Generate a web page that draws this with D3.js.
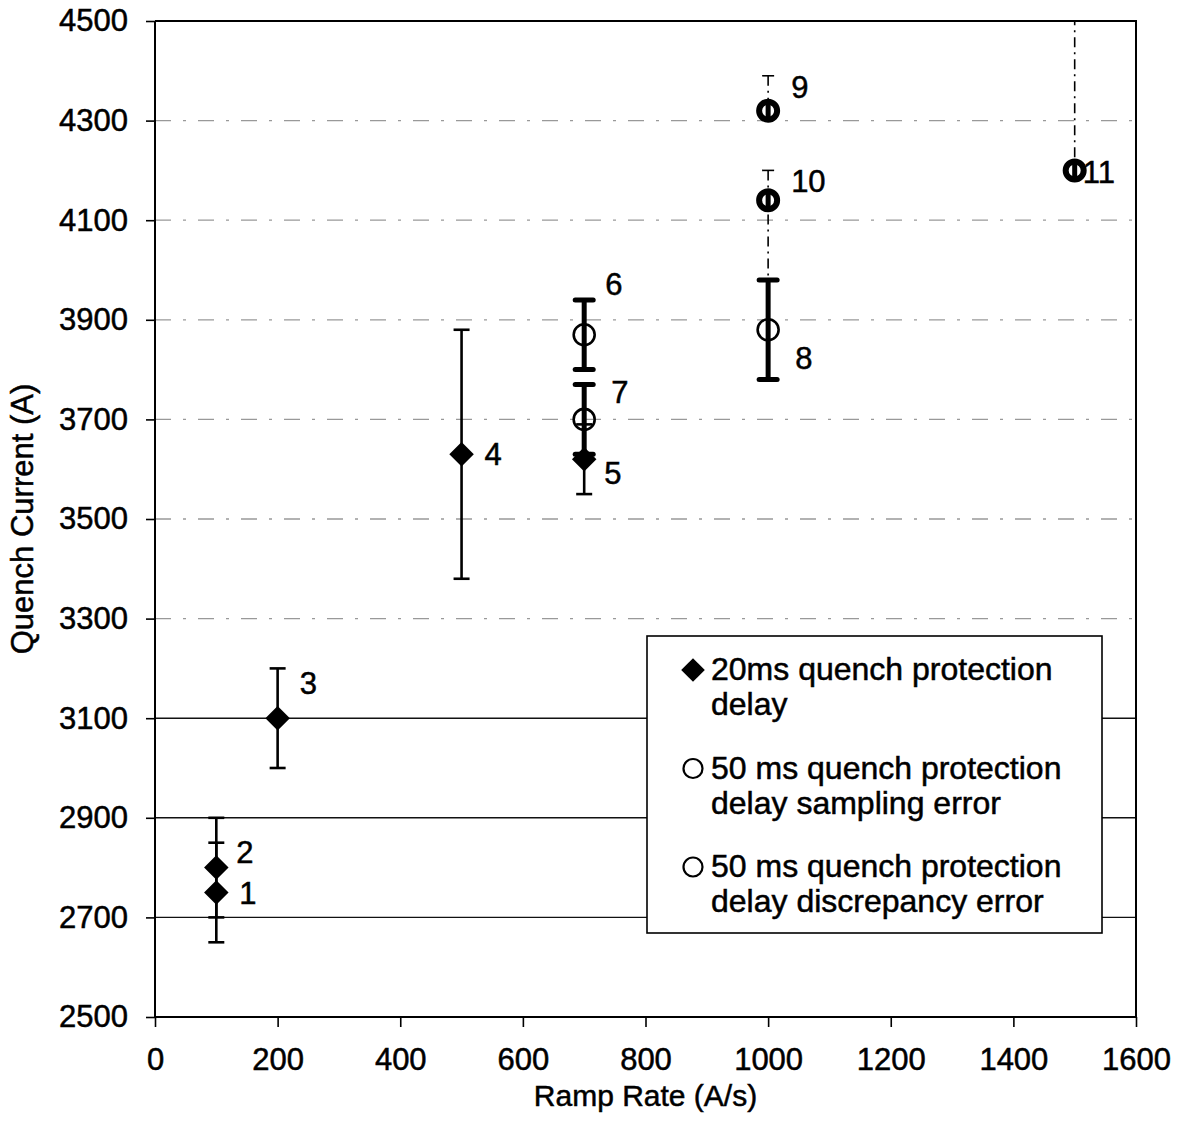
<!DOCTYPE html>
<html>
<head>
<meta charset="utf-8">
<script src="https://cdn.jsdelivr.net/npm/d3@7"></script>
<style>
  body { margin: 0; background: #fff; }
  svg { font-family: "Liberation Sans", Arial, sans-serif; }
  svg text { stroke: #000; stroke-width: 0.5px; fill: #000; }
</style>
</head>
<body>
<svg id="chart" width="1185" height="1121"></svg>
<script>
// 20 ms quench protection delay (diamonds)
const rampA = [100, 100, 200, 500, 700];
const currentA = [2750, 2800, 3100, 3630, 3620];
const errA = [100, 100, 100, 250, 70];
const labelsA = ["1", "2", "3", "4", "5"];

// 50 ms, sampling error (open circles, heavy bars)
const rampB = [700, 700, 1000];
const currentB = [3870, 3700, 3880];
const errB = [70, 70, 100];
const labelsB = ["6", "7", "8"];

// 50 ms, discrepancy error (circles, dash-dot bars)
const rampC = [1000, 1000, 1500];
const currentC = [4320, 4140, 4200];
const errCUp = [70, 60, 400];
const errCDown = [0, 160, 0];
const labelsC = ["9", "10", "11"];

const xTicks = [0, 200, 400, 600, 800, 1000, 1200, 1400, 1600];
const yTicks = [2500, 2700, 2900, 3100, 3300, 3500, 3700, 3900, 4100, 4300, 4500];
const solidGrid = [2700, 2900, 3100];

const legendLabels = [
  ["20ms quench protection", "delay"],
  ["50 ms quench protection", "delay sampling error"],
  ["50 ms quench protection", "delay discrepancy error"],
];

let svg = d3.select("#chart"),
  width = 1185,
  height = 1121,
  margin = { left: 155, right: 49, top: 21, bottom: 104 };

const x = d3.scaleLinear().domain([0, 1600]).range([margin.left, width - margin.right]);
const y = d3.scaleLinear().domain([2500, 4500]).range([height - margin.bottom, margin.top]);

// label offsets from each marker (dx, dy)
const nudgeA = [[23, 0], [20, -16], [22, -35], [23, 0], [20, 14]];
const nudgeB = [[21, -51], [27, -28], [27, 28]];
const nudgeC = [[23, -24], [23, -19], [8, 1]];

svg.append("defs").append("clipPath").attr("id", "plot-clip")
  .append("rect")
  .attr("x", margin.left)
  .attr("y", margin.top)
  .attr("width", width - margin.left - margin.right)
  .attr("height", height - margin.top - margin.bottom);

// gridlines
svg.append("g").classed("grid", true)
  .selectAll("line")
  .data(yTicks.slice(1, -1))
  .join("line")
  .attr("x1", margin.left)
  .attr("x2", width - margin.right)
  .attr("y1", (d) => y(d))
  .attr("y2", (d) => y(d))
  .attr("stroke", (d) => (solidGrid.includes(d) ? "#111" : "#999"))
  .attr("stroke-width", (d) => (solidGrid.includes(d) ? 1.4 : 1.3))
  .attr("stroke-dasharray", (d) => (solidGrid.includes(d) ? null : "16,12,3,12"));

const seriesA = rampA.map((r, i) => ({ r, c: currentA[i], lo: currentA[i] - errA[i], hi: currentA[i] + errA[i], label: labelsA[i], nudge: nudgeA[i] }));
const seriesB = rampB.map((r, i) => ({ r, c: currentB[i], lo: currentB[i] - errB[i], hi: currentB[i] + errB[i], label: labelsB[i], nudge: nudgeB[i] }));
const seriesC = rampC.map((r, i) => ({ r, c: currentC[i], lo: currentC[i] - errCDown[i], hi: currentC[i] + errCUp[i], label: labelsC[i], nudge: nudgeC[i] }));

const bars = svg.append("g").attr("clip-path", "url(#plot-clip)");

const drawBars = (data, cls, stroke, capHalf, linecap, dash) => {
  const g = bars.append("g").classed(cls, true);
  g.selectAll(".stem")
    .data(data)
    .join("line")
    .attr("class", "stem")
    .attr("x1", (d) => x(d.r))
    .attr("x2", (d) => x(d.r))
    .attr("y1", (d) => y(d.hi))
    .attr("y2", (d) => y(d.lo))
    .attr("stroke", "#000")
    .attr("stroke-width", stroke)
    .attr("stroke-dasharray", dash);
  const caps = [];
  data.forEach((d) => {
    if (d.hi !== d.c) caps.push({ r: d.r, v: d.hi });
    if (d.lo !== d.c) caps.push({ r: d.r, v: d.lo });
  });
  g.selectAll(".cap")
    .data(caps)
    .join("line")
    .attr("class", "cap")
    .attr("x1", (d) => x(d.r) - capHalf)
    .attr("x2", (d) => x(d.r) + capHalf)
    .attr("y1", (d) => y(d.v))
    .attr("y2", (d) => y(d.v))
    .attr("stroke", "#000")
    .attr("stroke-width", stroke)
    .attr("stroke-linecap", linecap);
};

drawBars(seriesC, "barsC", 1.6, 6, "butt", "10,5,2,5");
drawBars(seriesA, "barsA", 2.6, 8, "butt", null);
drawBars(seriesB, "barsB", 5, 9, "round", null);

const diamond = d3.symbol().type(d3.symbolSquare).size(300);
const circle = (r) => d3.symbol().type(d3.symbolCircle).size(Math.PI * r * r);

// markers
svg.append("g")
  .selectAll("path")
  .data(seriesA)
  .join("path")
  .attr("transform", (d) => `translate(${x(d.r)},${y(d.c)}) rotate(45)`)
  .attr("d", diamond)
  .attr("fill", "#000");

svg.append("g")
  .selectAll("path")
  .data(seriesB)
  .join("path")
  .attr("transform", (d) => `translate(${x(d.r)},${y(d.c)})`)
  .attr("d", circle(10.5))
  .attr("fill", "none")
  .attr("stroke", "#000")
  .attr("stroke-width", 2.6);

const cMarks = svg.append("g")
  .selectAll("g")
  .data(seriesC)
  .join("g")
  .attr("transform", (d) => `translate(${x(d.r)},${y(d.c)})`);
cMarks.append("path")
  .attr("d", circle(9))
  .attr("fill", "none")
  .attr("stroke", "#000")
  .attr("stroke-width", 6);
cMarks.append("line")
  .attr("y1", -8)
  .attr("y2", 8)
  .attr("stroke", "#000")
  .attr("stroke-width", 5);

// point numbers
svg.append("g")
  .selectAll("text")
  .data(seriesA.concat(seriesB, seriesC))
  .join("text")
  .attr("x", (d) => x(d.r) + d.nudge[0])
  .attr("y", (d) => y(d.c) + d.nudge[1])
  .attr("dy", "0.36em")
  .attr("font-size", 31)
  .text((d) => d.label);

// axes
const xAxis = d3.axisBottom(x).tickValues(xTicks).tickSize(10).tickPadding(21).tickFormat(d3.format("d"));
const yAxis = d3.axisLeft(y).tickValues(yTicks).tickSize(9).tickPadding(18).tickFormat(d3.format("d"));

svg.append("g")
  .attr("transform", `translate(0,${height - margin.bottom})`)
  .call(xAxis)
  .call((g) => {
    g.select(".domain").attr("stroke-width", 2).attr("d", `M${margin.left},0H${width - margin.right}`);
    g.selectAll(".tick line").attr("stroke-width", 1.6);
    g.selectAll(".tick text").attr("font-size", 31).attr("font-family", null).attr("fill", "#000");
  });

svg.append("g")
  .attr("transform", `translate(${margin.left},0)`)
  .call(yAxis)
  .call((g) => {
    g.select(".domain").attr("stroke-width", 2).attr("d", `M0,${margin.top}V${height - margin.bottom}`);
    g.selectAll(".tick line").attr("stroke-width", 1.6);
    g.selectAll(".tick text").attr("font-size", 31).attr("font-family", null).attr("fill", "#000");
  });

// top and right border
svg.append("path")
  .attr("d", `M${margin.left},${margin.top}H${width - margin.right}V${height - margin.bottom}`)
  .attr("fill", "none")
  .attr("stroke", "#000")
  .attr("stroke-width", 2);

svg.append("text")
  .attr("x", (margin.left + width - margin.right) / 2)
  .attr("y", 1106)
  .attr("text-anchor", "middle")
  .attr("font-size", 30)
  .text("Ramp Rate (A/s)");

svg.append("text")
  .attr("transform", `translate(33,${(margin.top + height - margin.bottom) / 2}) rotate(-90)`)
  .attr("text-anchor", "middle")
  .attr("font-size", 31)
  .text("Quench Current (A)");

// legend
const legend = svg.append("g").attr("transform", "translate(647,636)");
legend.append("rect")
  .attr("width", 455)
  .attr("height", 297)
  .attr("fill", "#fff")
  .attr("stroke", "#000")
  .attr("stroke-width", 1.6);

const items = legend.selectAll(".item")
  .data(legendLabels)
  .join("g")
  .attr("class", "item")
  .attr("transform", (d, i) => `translate(0,${44 + i * 98.5})`);

items.append("path")
  .attr("transform", (d, i) => `translate(46,-10)${i === 0 ? " rotate(45)" : ""}`)
  .attr("d", (d, i) => (i === 0 ? d3.symbol().type(d3.symbolSquare).size(280)() : circle(9.5)()))
  .attr("fill", (d, i) => (i === 0 ? "#000" : "none"))
  .attr("stroke", "#000")
  .attr("stroke-width", (d, i) => (i === 0 ? 0 : 2.2));

items.selectAll("text")
  .data((d) => d)
  .join("text")
  .attr("x", 64)
  .attr("y", (d, j) => j * 35)
  .attr("font-size", 32)
  .text((d) => d);
</script>
</body>
</html>
